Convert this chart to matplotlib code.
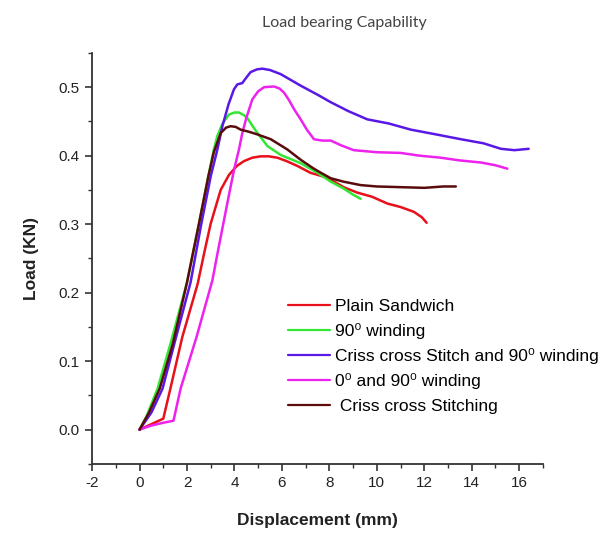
import matplotlib
matplotlib.use("Agg")
import matplotlib.pyplot as plt
from matplotlib.ticker import MultipleLocator

plt.rcParams['font.family'] = ['Liberation Sans', 'DejaVu Sans']

# ---- data ----
plain_x = [0, 0.5, 1.0, 1.3, 1.8, 2.45, 2.75, 3.0, 3.42, 3.77, 4.1, 4.4, 4.75, 5.1, 5.45, 5.81, 6.2, 6.65, 7.2, 7.7, 8.06, 8.6, 9.18, 9.8, 10.45, 11.0, 11.56, 11.9, 12.1]
plain_y = [0, 0.008, 0.016, 0.06, 0.135, 0.213, 0.262, 0.301, 0.35, 0.372, 0.385, 0.392, 0.397, 0.399, 0.399, 0.397, 0.392, 0.385, 0.375, 0.37, 0.365, 0.354, 0.346, 0.34, 0.33, 0.325, 0.318, 0.31, 0.302]

w90_x = [0, 0.3, 0.76, 1.3, 2.0, 2.5, 2.9, 3.13, 3.28, 3.5, 3.77, 4.0, 4.19, 4.4, 4.54, 4.75, 4.97, 5.39, 5.95, 6.79, 7.5, 8.06, 8.6, 9.0, 9.32]
w90_y = [0, 0.02, 0.06, 0.125, 0.215, 0.3, 0.37, 0.409, 0.429, 0.447, 0.46, 0.463, 0.463, 0.459, 0.455, 0.444, 0.433, 0.414, 0.401, 0.389, 0.375, 0.362, 0.352, 0.343, 0.337]

ccs90_x = [0, 0.5, 0.97, 1.5, 2.15, 2.6, 3.0, 3.28, 3.49, 3.75, 3.98, 4.12, 4.33, 4.5, 4.68, 4.95, 5.18, 5.5, 5.95, 6.4, 6.8, 7.5, 8.06, 8.8, 9.6, 10.5, 11.43, 12.5, 13.54, 14.5, 15.23, 15.8, 16.4]
ccs90_y = [0, 0.025, 0.06, 0.13, 0.215, 0.3, 0.37, 0.409, 0.443, 0.475, 0.497, 0.504, 0.506, 0.514, 0.522, 0.526, 0.527, 0.525, 0.519, 0.51, 0.502, 0.489, 0.478, 0.465, 0.453, 0.447, 0.438, 0.431, 0.424, 0.418, 0.41, 0.408, 0.41]

w090_x = [0, 0.5, 1.0, 1.43, 1.73, 2.4, 3.07, 3.3, 3.56, 3.81, 4.0, 4.19, 4.33, 4.5, 4.75, 5.0, 5.25, 5.67, 5.9, 6.09, 6.3, 6.51, 6.79, 7.05, 7.35, 7.7, 8.06, 8.5, 9.03, 10.0, 11.0, 11.8, 12.7, 13.5, 14.39, 15.0, 15.5]
w090_y = [0, 0.006, 0.01, 0.013, 0.06, 0.135, 0.218, 0.26, 0.306, 0.35, 0.382, 0.409, 0.433, 0.455, 0.482, 0.494, 0.5, 0.501, 0.498, 0.492, 0.481, 0.468, 0.453, 0.438, 0.424, 0.422, 0.422, 0.415, 0.408, 0.405, 0.404, 0.4, 0.397, 0.393, 0.39, 0.386, 0.381]

ccst_x = [0, 0.4, 0.85, 1.4, 2.0, 2.5, 2.9, 3.13, 3.42, 3.65, 3.84, 4.05, 4.26, 4.6, 4.97, 5.53, 6.23, 6.79, 7.3, 7.64, 8.06, 8.6, 9.32, 10.0, 11.0, 12.0, 12.8, 13.33]
ccst_y = [0, 0.025, 0.06, 0.125, 0.215, 0.3, 0.37, 0.405, 0.433, 0.441, 0.443, 0.442, 0.438, 0.435, 0.431, 0.424, 0.409, 0.394, 0.382, 0.375, 0.367, 0.362, 0.357, 0.355, 0.354, 0.353, 0.355, 0.355]

labels = ["Plain Sandwich",
          "90\u2070 winding",
          "Criss cross Stitch and 90\u2070 winding",
          "0\u2070 and 90\u2070 winding",
          " Criss cross Stitching"]
colors = ['#e8101a', '#33e633', '#5a18e6', '#ee22ee', '#5a0c0c']
series = [(plain_x, plain_y), (w90_x, w90_y), (ccs90_x, ccs90_y), (w090_x, w090_y), (ccst_x, ccst_y)]

x_ticks = [-2, 0, 2, 4, 6, 8, 10, 12, 14, 16]
y_ticks = [0.0, 0.1, 0.2, 0.3, 0.4, 0.5]

fig = plt.figure(figsize=(6.1, 5.4), dpi=100)
ax = fig.add_axes([0.151, 0.141, 0.739, 0.761])

lines = []
for (xs, ys), c, lab in zip(series, colors, labels):
    ln, = ax.plot(xs, ys, color=c, lw=1.8, label=lab, solid_capstyle='round',
                  solid_joinstyle='round')
    lines.append(ln)

ax.set_xlim(-2, 17)
ax.set_ylim(-0.05, 0.55)
ax.set_xticks(x_ticks)
ax.set_yticks(y_ticks)
ax.set_xticklabels([str(t) for t in x_ticks])
ax.set_yticklabels([f"{t:.1f}" for t in y_ticks])
ax.xaxis.set_minor_locator(MultipleLocator(1))
ax.yaxis.set_minor_locator(MultipleLocator(0.05))

for s in ['top', 'right']:
    ax.spines[s].set_visible(False)
for s in ['left', 'bottom']:
    ax.spines[s].set_linewidth(1.3)
    ax.spines[s].set_color('#333333')

ax.tick_params(axis='both', which='major', direction='out', length=5, width=1.2,
               labelsize=11, colors='#333333', labelcolor='#222222', pad=4)
ax.tick_params(axis='both', which='minor', direction='out', length=3, width=1.0, colors='#333333')

ax.set_xlabel("Displacement (mm)", fontsize=12.5, fontweight='bold', labelpad=16, color='#222222')
ax.set_ylabel("Load (KN)", fontsize=12.5, fontweight='bold', labelpad=14, color='#222222')

fig.text(0.565, 0.958, "Load bearing Capability", ha='center', va='center',
         fontsize=11.5, family=['Lato', 'DejaVu Sans'], color='#444444')

leg = fig.legend(handles=lines, loc='upper left', bbox_to_anchor=(0.472, 0.447),
                 frameon=False, fontsize=12.5, handlelength=2.4, handletextpad=0.3,
                 labelspacing=0.53, borderpad=0, borderaxespad=0)
for h in leg.legend_handles:
    h.set_linewidth(1.6)

fig.savefig("out.png", dpi=100)
